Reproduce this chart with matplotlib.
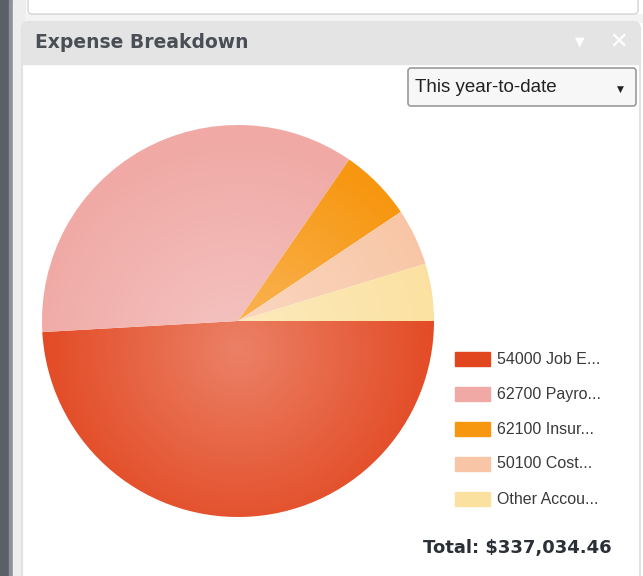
import numpy as np
import matplotlib
matplotlib.use("Agg")
import matplotlib.pyplot as plt
from matplotlib.patches import FancyBboxPatch, Rectangle, Circle

# Expense accounts, year-to-date amounts
accounts = ["54000 Job E...", "62700 Payro...", "62100 Insur...", "50100 Cost...", "Other Accou..."]
amounts = [165480.12, 119650.00, 20230.00, 15780.00, 15894.34]
colors = ["#E2461F", "#F0A9A5", "#F7960F", "#F8C6A6", "#FBE1A0"]
title = "Expense Breakdown"
period = "This year-to-date"

W, H = 643, 576
fig = plt.figure(figsize=(W / 100, H / 100), dpi=100)
fig.patch.set_facecolor("white")

# Background "widget" layer in pixel coordinates
bg = fig.add_axes([0, 0, 1, 1])
bg.set_xlim(0, W)
bg.set_ylim(H, 0)
bg.axis("off")

# left window frame
bg.add_patch(Rectangle((0, 0), 9, H, color="#5B5F66", zorder=1))
bg.add_patch(Rectangle((9, 0), 4, H, color="#8E9198", zorder=1))
bg.add_patch(Rectangle((13, 0), 12, H, color="#EEEEEE", zorder=1))
# panel above
bg.add_patch(FancyBboxPatch((28, -10), 610, 24, boxstyle="round,pad=0,rounding_size=4",
                            fc="white", ec="#DADADA", lw=1.2, zorder=2))
bg.add_patch(Rectangle((25, 14), 618, 8, color="#F3F3F3", zorder=1))
# widget body and border
bg.add_patch(FancyBboxPatch((22, 22), 618, 570, boxstyle="round,pad=0,rounding_size=7",
                            fc="white", ec="#E2E2E2", lw=1.5, zorder=2))
# header band
bg.add_patch(FancyBboxPatch((22, 22), 618, 42, boxstyle="round,pad=0,rounding_size=7",
                            fc="#E4E4E4", ec="none", zorder=3))
bg.add_patch(Rectangle((22, 50), 618, 14, color="#E4E4E4", zorder=3))
bg.text(35, 43, title, fontsize=13.5, fontweight="bold", color="#4A4E55",
        va="center", ha="left", family="DejaVu Sans", zorder=4)
bg.text(580, 42, "\u25BC", fontsize=9, color="white", ha="center", va="center", zorder=4)
bg.text(619, 42, "\u2715", fontsize=16, color="white", ha="center", va="center", zorder=4)

# period drop-down
bg.add_patch(FancyBboxPatch((408, 68), 228, 38, boxstyle="round,pad=0,rounding_size=3",
                            fc="#F7F7F7", ec="#9A9A9A", lw=1.2, zorder=3))
bg.text(415, 88, period, fontsize=13.5, color="#222222", ha="left", va="center",
        family="Liberation Sans", zorder=4)
bg.text(620, 89, "\u25BC", fontsize=6.5, color="#222222", ha="center", va="center", zorder=4)

# Pie chart
cx, cy, r = 238, 321, 196
pax = fig.add_axes([(cx - r) / W, (H - cy - r) / H, 2 * r / W, 2 * r / H])
wedges, _ = pax.pie(amounts, colors=colors, startangle=0, counterclock=False,
                    radius=1, wedgeprops=dict(linewidth=0))
pax.set_xlim(-1, 1)
pax.set_ylim(-1, 1)
pax.set_aspect("equal")
pax.axis("off")

# soft radial highlight toward the centre
n = 400
yy, xx = np.mgrid[-1:1:n * 1j, -1:1:n * 1j]
rr = np.sqrt(xx ** 2 + (yy + 0.15) ** 2)
alpha = np.clip(0.32 * (1 - rr / 1.1), 0, 1)
shade = np.zeros((n, n, 4))
shade[..., :3] = 1.0
shade[..., 3] = alpha
im = pax.imshow(shade, extent=(-1, 1, -1, 1), origin="lower", zorder=5, interpolation="bilinear")
clip = Circle((0, 0), 1.0, transform=pax.transData)
im.set_clip_path(clip)

# Legend
y0, dy = 359, 35
for i, (lab, col) in enumerate(zip(accounts, colors)):
    y = y0 + i * dy
    bg.add_patch(Rectangle((455, y - 7), 35, 14, color=col, zorder=4))
    bg.text(497, y, lab, fontsize=11.5, color="#3A3A3A", ha="left", va="center",
            family="Liberation Sans", zorder=4)

total = sum(amounts)
bg.text(612, 548, f"Total: ${total:,.2f}", fontsize=13, fontweight="bold",
        color="#2B2F36", ha="right", va="center", zorder=4)

fig.savefig("out.png", dpi=100)
